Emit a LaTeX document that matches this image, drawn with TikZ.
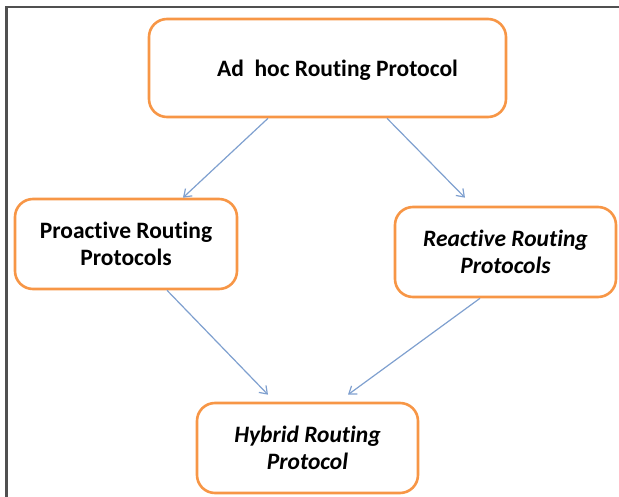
\documentclass[tikz,border=0pt]{standalone}
\usepackage{fontspec}
\setmainfont{Carlito}[Ligatures=NoCommon]
\usetikzlibrary{arrows.meta}
\definecolor{boxorange}{RGB}{247,150,70}
\definecolor{arrowblue}{RGB}{127,160,207}
\definecolor{framegray}{RGB}{80,80,80}

\begin{document}
\begin{tikzpicture}[x=1pt,y=1pt,
		rbox/.style={draw=boxorange, line width=2.6pt, rounded corners=18pt, inner sep=0pt},
		rtext/.style={font=\fontsize{23.5}{26.5}\selectfont\bfseries, align=center},
		link/.style={draw=arrowblue, line width=1.2pt, -{Straight Barb[length=7pt,width=10pt]}}]
			\useasboundingbox (0,0) rectangle (619,-497);
			% frame
			\draw [framegray, line width=2.2pt] (6.5,-497) -- (6.5,-7) -- (619,-7);

			% boxes
			\node[rbox, minimum width=357, minimum height=98] (adhoc) at (327.5,-68) {};
			\node[rbox, minimum width=222, minimum height=90] (pro) at (126,-244) {};
			\node[rbox, minimum width=221, minimum height=90] (re) at (505.5,-252) {};
			\node[rbox, minimum width=221, minimum height=90] (hyb) at (307.5,-448) {};

			% box texts
			\node[rtext] (adhoctext) at ([xshift=10,yshift=-2]adhoc.center) {Ad\ \ hoc Routing Protocol};
			\node[rtext] (protext) at (pro.center) {Proactive Routing\\Protocols};
			\node[rtext, font=\fontsize{23.5}{27.5}\selectfont\bfseries\itshape] (retext) at (re.center) {Reactive Routing\\Protocols};
			\node[rtext, font=\fontsize{23.5}{27.5}\selectfont\bfseries\itshape] (hybtext) at (hyb.center) {Hybrid Routing\\Protocol};

			% arrows
			\draw [link] ([xshift=-59.5]adhoc.south) -- ([xshift=57]pro.north);
			\draw [link] ([xshift=59.5]adhoc.south) -- ([xshift=-40.5,yshift=8]re.north);
			\draw [link] ([xshift=41]pro.south) -- ([xshift=-39.5,yshift=7]hyb.north);
			\draw [link] ([xshift=-25.5]re.south) -- ([xshift=40.5,yshift=7]hyb.north);
		\end{tikzpicture}
\end{document}
